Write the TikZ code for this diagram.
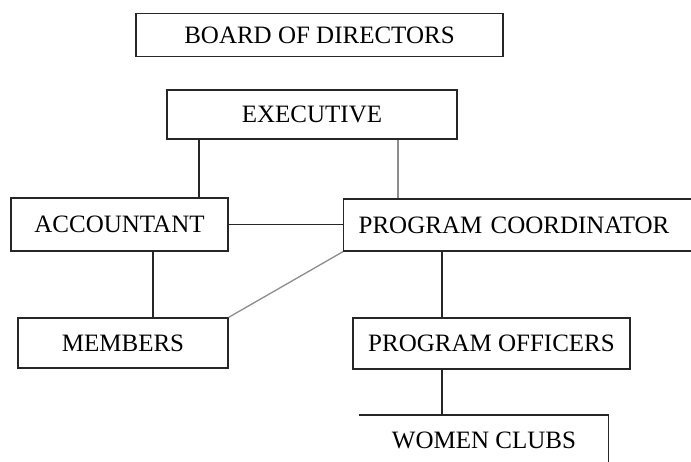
\documentclass[tikz,border=0pt]{standalone}
\usepackage{fontspec}
\setmainfont{Liberation Serif}
\begin{document}
\begin{tikzpicture}[x=1pt,y=-1pt,
  box/.style={draw=black!85,line width=1.3pt,inner sep=0pt,font=\fontsize{25}{29}\selectfont},
  conn/.style={draw=black!85,line width=1.3pt},
  grayconn/.style={draw=black!45,line width=1.3pt}]
\useasboundingbox (0,0) rectangle (691,461);
\node[box,minimum width=367,minimum height=43] (board) at (319.5,35) {BOARD OF DIRECTORS};
\node[box,minimum width=290,minimum height=49] (exec) at (312,114.5) {EXECUTIVE};
\node[box,minimum width=217,minimum height=53] (acct) at (119.5,224.5) {ACCOUNTANT};
\node[box,minimum width=210,minimum height=50] (mem) at (123,343) {MEMBERS};
\node[box,anchor=west,minimum height=52,text width=340pt,inner xsep=15pt,align=left] (pc) at (343,225) {PROGRAM COORDINATOR};
\node[box,minimum width=277,minimum height=51] (po) at (491.5,343.5) {PROGRAM OFFICERS};
\node[box,draw=none,anchor=north,minimum width=248,minimum height=50] (wc) at (484,415) {WOMEN CLUBS};
\draw[conn] (wc.north west) -- (wc.north east) -- (wc.south east);
\coordinate (c1) at (199,0);
\coordinate (c2) at (398,0);
\coordinate (c3) at (153,0);
\coordinate (c4) at (442,0);
\draw[conn] (c1 |- exec.south) -- (c1 |- acct.north);
\draw[grayconn] (c2 |- exec.south) -- (c2 |- pc.north);
\draw[conn] (acct.east) -- (acct.east -| pc.west);
\draw[conn] (c3 |- acct.south) -- (c3 |- mem.north);
\draw[grayconn] (mem.north east) -- (pc.south west);
\draw[conn] (c4 |- pc.south) -- (c4 |- po.north);
\draw[conn] (c4 |- po.south) -- (c4 |- wc.north);
\end{tikzpicture}
\end{document}
